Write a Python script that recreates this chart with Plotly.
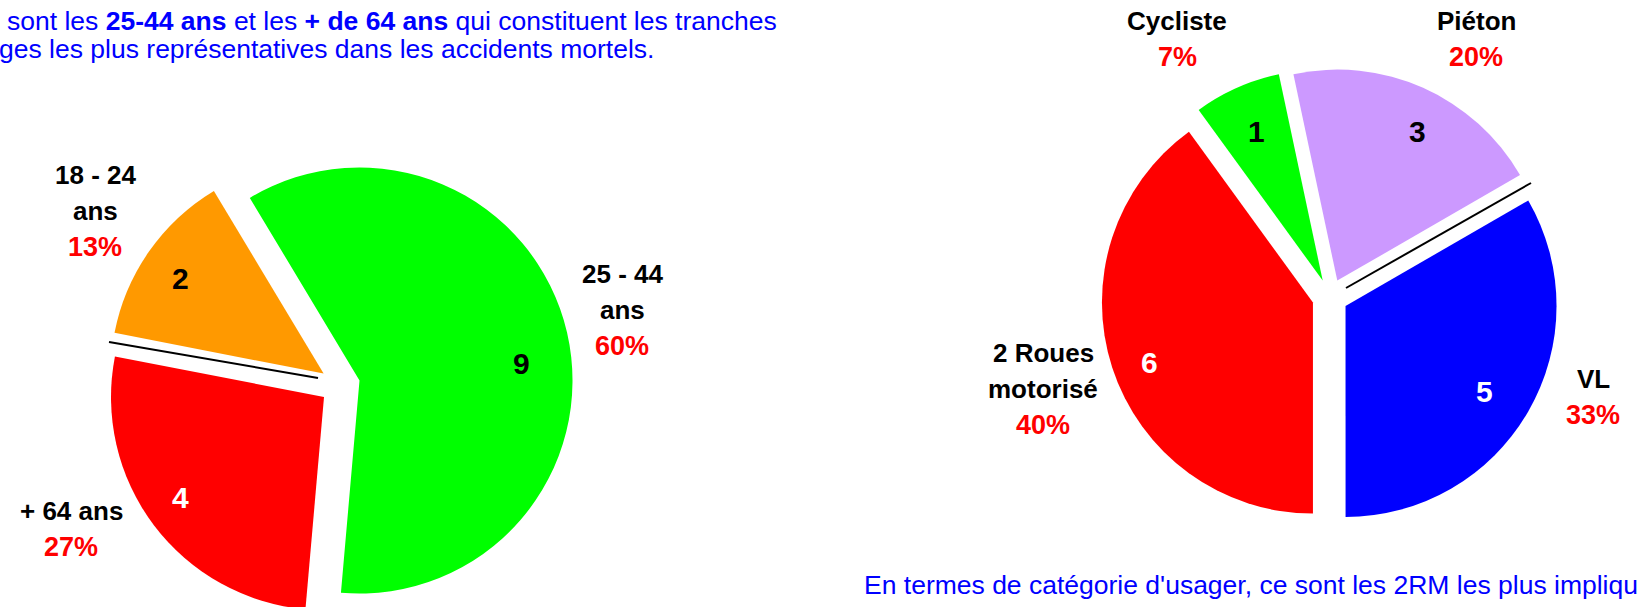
import plotly.graph_objects as go

W, H = 1640, 620
FONT = "Liberation Sans, Arial, sans-serif"

# left chart: age groups (clockwise from the first slice)
age_labels = ["25 - 44<br>ans", "+ 64 ans", "18 - 24<br>ans"]
age_values = [9, 4, 2]
age_colors = ["#00FF00", "#FF0000", "#FF9900"]
age_value_font = ["black", "white", "black"]

# right chart: user category (clockwise from the first slice)
user_labels = ["VL", "2 Roues<br>motorisé", "Cycliste", "Piéton"]
user_values = [5, 6, 1, 3]
user_colors = ["#0000FF", "#FF0000", "#00FF00", "#CC99FF"]
user_value_font = ["white", "white", "black", "black"]


def px(x):
    return x / W


def py(y):
    return 1 - y / H


def domain(cx, cy, r, pull):
    half = r * (1 + pull)
    return {'x': [px(cx - half), px(cx + half)],
            'y': [py(cy + half), py(cy - half)]}


fig = go.Figure()

fig.add_trace(go.Pie(
    labels=[l.replace("<br>", " ") for l in age_labels],
    values=age_values,
    marker=dict(colors=age_colors),
    sort=False, direction="clockwise", rotation=-31,
    pull=0.094, textinfo="none", hoverinfo="label+value+percent",
    domain=domain(340, 385, 213, 0.094),
))

fig.add_trace(go.Pie(
    labels=[l.replace("<br>", " ") for l in user_labels],
    values=user_values,
    marker=dict(colors=user_colors),
    sort=False, direction="clockwise", rotation=60,
    pull=0.085, textinfo="none", hoverinfo="label+value+percent",
    domain=domain(1330, 297, 211, 0.085),
))

annotations = []


def label_block(text, pct, x, y):
    # name lines in black, percentage in red below
    lines = text.split("<br>") + [pct]
    for i, line in enumerate(lines):
        is_pct = i == len(lines) - 1
        annotations.append(dict(
            x=px(x), y=py(y + 36 * i), xref="paper", yref="paper",
            text="<b>%s</b>" % line, showarrow=False,
            xanchor="center", yanchor="middle",
            font=dict(family=FONT, size=27 if is_pct else 26,
                      color="#FF0000" if is_pct else "black"),
        ))


def value_label(v, color, x, y):
    annotations.append(dict(
        x=px(x), y=py(y), xref="paper", yref="paper",
        text="<b>%d</b>" % v, showarrow=False,
        xanchor="center", yanchor="middle",
        font=dict(family=FONT, size=30, color=color),
    ))


age_label_pos = [(622, 274), (71, 511), (95, 175)]
age_value_pos = [(521, 363), (180, 497), (180, 278)]
total = sum(age_values)
for lab, v, c, lp, vp in zip(age_labels, age_values, age_value_font,
                              age_label_pos, age_value_pos):
    label_block(lab, "%d%%" % round(100 * v / total), *lp)
    value_label(v, c, *vp)

user_label_pos = [(1593, 379), (1043, 353), (1177, 21), (1476, 21)]
user_value_pos = [(1484, 392), (1149, 362), (1256, 131), (1417, 131)]
total = sum(user_values)
for lab, v, c, lp, vp in zip(user_labels, user_values, user_value_font,
                              user_label_pos, user_value_pos):
    label_block(lab, "%d%%" % round(100 * v / total), *lp)
    value_label(v, c, *vp)

# commentary text (cut by the edges of the original capture)
blue_font = dict(family=FONT, size=26.5, color="#0000FF")
annotations.append(dict(
    x=px(5), y=py(21), xref="paper", yref="paper", showarrow=False,
    xanchor="left", yanchor="middle", font=blue_font,
    text="sont les <b>25-44 ans</b> et les <b>+ de 64 ans</b> qui constituent les tranches",
))
annotations.append(dict(
    x=px(-3), y=py(49), xref="paper", yref="paper", showarrow=False,
    xanchor="left", yanchor="middle", font=blue_font,
    text="ges les plus représentatives dans les accidents mortels.",
))
annotations.append(dict(
    x=px(862), y=py(585), xref="paper", yref="paper", showarrow=False,
    xanchor="left", yanchor="middle", font=blue_font,
    text="En termes de catégorie d'usager, ce sont les 2RM les plus impliqu",
))

# thin black separators in the gaps
shapes = [
    dict(type="line", xref="paper", yref="paper",
         x0=px(109), y0=py(342), x1=px(318), y1=py(378),
         line=dict(color="black", width=2)),
    dict(type="line", xref="paper", yref="paper",
         x0=px(1346), y0=py(288), x1=px(1531), y1=py(183),
         line=dict(color="black", width=2)),
]

fig.update_layout(
    width=W, height=H,
    margin=dict(l=0, r=0, t=0, b=0),
    paper_bgcolor="white", plot_bgcolor="white",
    showlegend=False,
    annotations=annotations,
    shapes=shapes,
)

fig.write_html("out.html", config={"displayModeBar": False},
               post_script="document.body.style.margin = '0';")
